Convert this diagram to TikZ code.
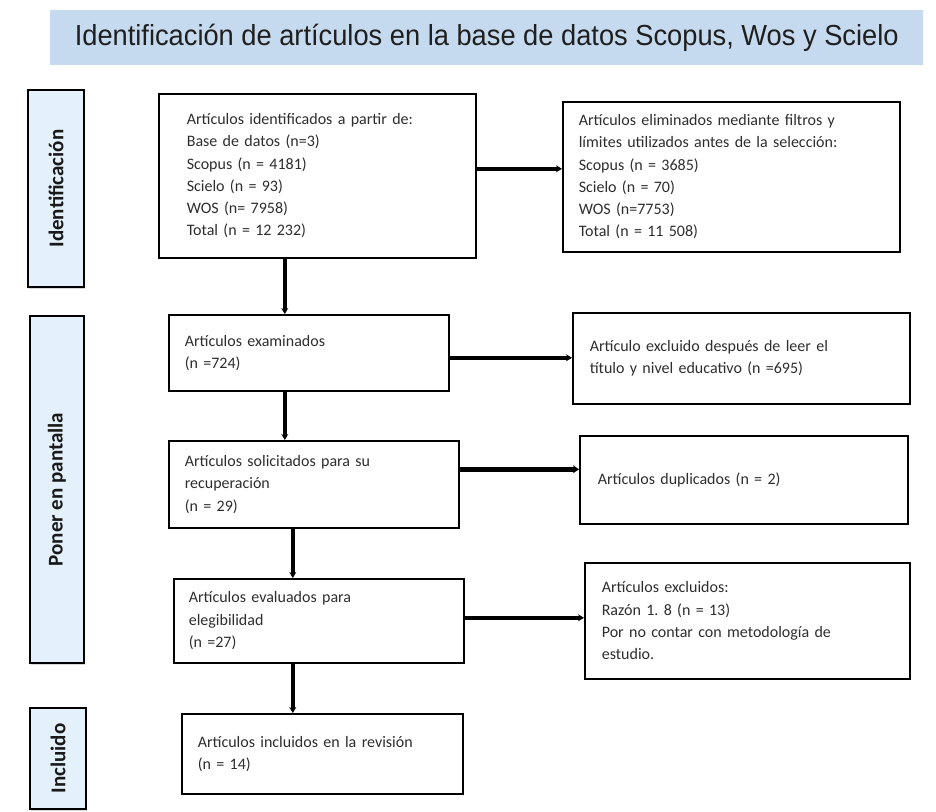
\documentclass[tikz,border=0pt]{standalone}
\usepackage{fontspec}
\setmainfont{Carlito}
\newfontfamily\titlefont[FakeStretch=0.94]{Liberation Sans}
\usepackage{tikz}
\usetikzlibrary{arrows.meta, shadows}

\definecolor{titlefill}{HTML}{C5DAEF}
\definecolor{phasefill}{HTML}{E4F0FC}
\definecolor{boxtext}{HTML}{2E2E2E}

\begin{document}
\frenchspacing
\begin{tikzpicture}[
  x=1pt, y=-1pt,
  box/.style={draw, line width=1.6pt, fill=white, anchor=north west, align=left,
    inner xsep=16pt, text=boxtext, font=\fontsize{16}{22.3}\selectfont,
    drop shadow={shadow xshift=1pt, shadow yshift=-1.5pt, opacity=0.3}},
  phase/.style={draw, line width=1.8pt, fill=phasefill, rotate=90,
    font=\bfseries\fontsize{21}{24}\selectfont, text=black!90,
    drop shadow={shadow xshift=1pt, shadow yshift=-1.5pt, opacity=0.3}},
  arrow/.style={-{Stealth[length=6pt, width=7pt]}, line width=3.5pt},
  heavyarrow/.style={-{Stealth[length=6pt, width=8pt]}, line width=5.5pt}
]
\useasboundingbox (0,0) rectangle (936,811);

% title bar
\node[fill=titlefill, minimum width=873pt, minimum height=55pt, anchor=north west,
  font=\titlefont\fontsize{29}{32}\selectfont, text=black!88] (title) at (50,10)
  {Identificación de artículos en la base de datos Scopus, Wos y Scielo};

% phases
\node[phase, minimum width=197pt, minimum height=56pt] (pident) at (56,188.5) {Identificación};
\node[phase, minimum width=347pt, minimum height=54pt] (ppant) at (57,489.5) {Poner en pantalla};
\node[phase, minimum width=101pt, minimum height=56pt] (pincl) at (58,758.5) {Incluido};

% main column
\node[box, minimum width=317pt, minimum height=164pt, text width=261pt, inner xsep=28pt] (ident) at (158,93)
  {Artículos identificados a partir de:\\ Base de datos (n=3)\\ Scopus (n = 4181)\\ Scielo (n = 93)\\ WOS (n= 7958)\\ Total (n = 12 232)};
\node[box, minimum width=280pt, minimum height=76pt, text width=248pt] (exam) at (168,314)
  {Artículos examinados\\ (n =724)};
\node[box, minimum width=290pt, minimum height=87pt, text width=258pt] (solic) at (168,440)
  {Artículos solicitados para su\\ recuperación\\ (n = 29)};
\node[box, minimum width=290pt, minimum height=84pt, text width=260pt, inner xsep=15pt] (eval) at (173,578)
  {Artículos evaluados para\\ elegibilidad\\ (n =27)};
\node[box, minimum width=281pt, minimum height=80pt, text width=249pt] (incl) at (181,713)
  {Artículos incluidos en la revisión\\ (n = 14)};

% excluded column
\node[box, minimum width=337pt, minimum height=150pt, text width=305pt] (elim) at (562,101)
  {Artículos eliminados mediante filtros y\\ límites utilizados antes de la selección:\\ Scopus (n = 3685)\\ Scielo (n = 70)\\ WOS (n=7753)\\ Total (n = 11 508)};
\node[box, minimum width=337pt, minimum height=91pt, text width=303pt, inner xsep=17pt] (excl) at (572,312)
  {Artículo excluido después de leer el\\ título y nivel educativo (n =695)};
\node[box, minimum width=328pt, minimum height=88pt, text width=292pt, inner xsep=18pt] (dup) at (579,435)
  {Artículos duplicados (n = 2)};
\node[box, minimum width=325pt, minimum height=116pt, text width=291pt, inner xsep=17pt] (razon) at (584,562)
  {Artículos excluidos:\\ Razón 1. 8 (n = 13)\\ Por no contar con metodología de\\ estudio.};

% connectors
\draw[arrow] ([xshift=-32.5pt]ident.south) -- ([xshift=-32.5pt]ident.south |- exam.north);
\draw[arrow] ([xshift=-24pt]exam.south) -- ([xshift=-24pt]exam.south |- solic.north);
\draw[arrow] ([xshift=-21pt]solic.south) -- ([xshift=-21pt]solic.south |- eval.north);
\draw[arrow] ([xshift=-26pt]eval.south) -- ([xshift=-26pt]eval.south |- incl.north);

\draw[arrow] ([yshift=7pt]ident.east) -- ([yshift=7pt]ident.east -| elim.west);
\draw[arrow] ([yshift=-5pt]exam.east) -- ([yshift=-5pt]exam.east -| excl.west);
\draw[heavyarrow] ([yshift=15pt]solic.east) -- ([yshift=15pt]solic.east -| dup.west);
\draw[arrow] ([yshift=3pt]eval.east) -- ([yshift=3pt]eval.east -| razon.west);
\end{tikzpicture}
\end{document}
